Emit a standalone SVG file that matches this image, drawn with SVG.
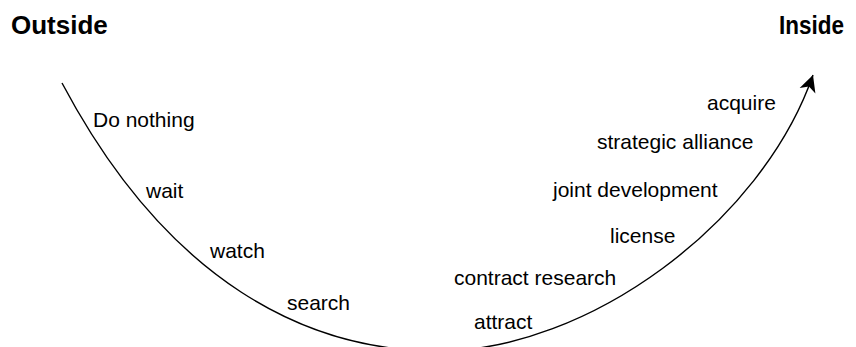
<svg xmlns="http://www.w3.org/2000/svg" width="856" height="347" viewBox="0 0 856 347">
  <style>
    .head { font-family: "Liberation Sans", Arial, Helvetica, sans-serif; font-size: 26px; font-weight: bold; fill: #000; }
    .lbl { font-family: "Liberation Sans", Arial, Helvetica, sans-serif; font-size: 21px; fill: #000; }
    .curve { fill: none; stroke: #000; stroke-width: 1.4; }
  </style>
  <defs>
    <marker id="arrow" markerUnits="userSpaceOnUse" markerWidth="20" markerHeight="20" viewBox="-16 -9 18 18" refX="0" refY="0" orient="auto">
      <path d="M0,0 L-15,-7.5 L-11,0 L-15,7.5 Z" fill="#000"/>
    </marker>
  </defs>

  <g id="heading-outside"><text class="head" x="11" y="34">Outside</text></g>
  <g id="heading-inside"><text class="head" x="779" y="34" textLength="65" lengthAdjust="spacingAndGlyphs">Inside</text></g>

  <g id="connectors">
    <path class="curve" marker-end="url(#arrow)"
      d="M62,83 C168,283 308,351 438,351 C588,351 761.5,223 813,75"/>
  </g>

  <g id="node-do-nothing"><text class="lbl" x="93" y="127">Do nothing</text></g>
  <g id="node-wait"><text class="lbl" x="146" y="198">wait</text></g>
  <g id="node-watch"><text class="lbl" x="210" y="258">watch</text></g>
  <g id="node-search"><text class="lbl" x="287" y="310">search</text></g>
  <g id="node-attract"><text class="lbl" x="474" y="329">attract</text></g>
  <g id="node-contract-research"><text class="lbl" x="454" y="285">contract research</text></g>
  <g id="node-license"><text class="lbl" x="610" y="243">license</text></g>
  <g id="node-joint-development"><text class="lbl" x="553" y="197">joint development</text></g>
  <g id="node-strategic-alliance"><text class="lbl" x="597" y="149">strategic alliance</text></g>
  <g id="node-acquire"><text class="lbl" x="707" y="110">acquire</text></g>
</svg>
